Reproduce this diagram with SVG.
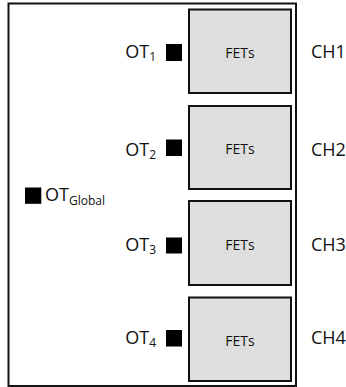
<svg xmlns="http://www.w3.org/2000/svg" width="346" height="387" viewBox="0 0 346 387">
<style>
.outer{fill:#fff;stroke:#111;stroke-width:2}
.fet{fill:#dedede;stroke:#111;stroke-width:2}
.sq{fill:#000}
.lbl{font-family:"Open Sans","Liberation Sans",sans-serif;font-size:18px;fill:#111}
.sub{font-size:12px}
.ft{font-family:"Open Sans","Liberation Sans",sans-serif;font-size:14px;fill:#111;text-anchor:middle}
</style>
<g id="chip"><rect class="outer" x="8.5" y="3.5" width="287.5" height="382.5"/></g>
<g id="connectors"></g>
<g id="ch1">
<rect class="fet" x="189" y="9.5" width="102" height="83.5"/>
<text class="ft" x="240" y="58">FETs</text>
<rect class="sq" x="166" y="44" width="16" height="17"/>
<text class="lbl" x="156" y="58" text-anchor="end">OT<tspan class="sub" dy="3">1</tspan></text>
<text class="lbl" x="311" y="58.3">CH1</text>
</g>
<g id="ch2">
<rect class="fet" x="189" y="106" width="102" height="83"/>
<text class="ft" x="240" y="154">FETs</text>
<rect class="sq" x="166" y="139.5" width="16" height="16.5"/>
<text class="lbl" x="156" y="155.5" text-anchor="end">OT<tspan class="sub" dy="3">2</tspan></text>
<text class="lbl" x="311" y="156">CH2</text>
</g>
<g id="ch3">
<rect class="fet" x="189" y="201" width="102" height="84"/>
<text class="ft" x="240" y="249.5">FETs</text>
<rect class="sq" x="166" y="237.5" width="16" height="16"/>
<text class="lbl" x="156" y="250.7" text-anchor="end">OT<tspan class="sub" dy="3">3</tspan></text>
<text class="lbl" x="311" y="250.7">CH3</text>
</g>
<g id="ch4">
<rect class="fet" x="189" y="297.5" width="102" height="83.5"/>
<text class="ft" x="240" y="345.5">FETs</text>
<rect class="sq" x="166" y="330" width="16" height="16.5"/>
<text class="lbl" x="156" y="344" text-anchor="end">OT<tspan class="sub" dy="3">4</tspan></text>
<text class="lbl" x="311" y="344.3">CH4</text>
</g>
<g id="otglobal">
<rect class="sq" x="25" y="187.5" width="16.3" height="16.3"/>
<text class="lbl" x="45" y="201">OT<tspan class="sub" dy="4">Global</tspan></text>
</g>
</svg>
